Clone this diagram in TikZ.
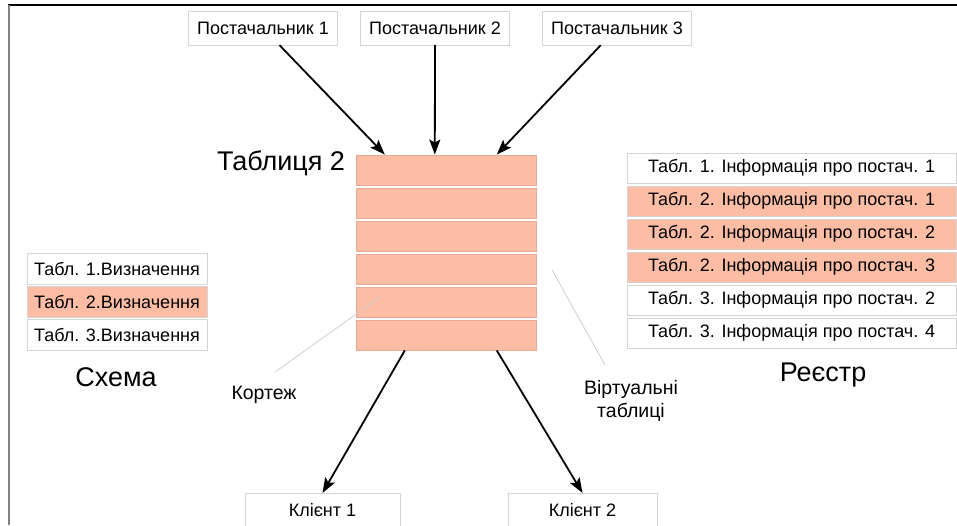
\documentclass[tikz,border=0pt]{standalone}
\usepackage{fontspec}
\setmainfont{Liberation Sans}
\usetikzlibrary{positioning,arrows.meta}

\definecolor{salmon}{RGB}{252,189,164}
\definecolor{salmonline}{RGB}{232,170,148}
\definecolor{boxline}{RGB}{212,212,212}
\definecolor{pointer}{RGB}{200,200,200}

\begin{document}
\begin{tikzpicture}[x=1pt,y=-1pt,node distance=33pt,on grid,
    small/.style={font=\fontsize{18}{22}\selectfont},
    mid/.style={font=\fontsize{19.5}{23}\selectfont},
    big/.style={font=\fontsize{27}{30}\selectfont},
    box/.style={small,draw=boxline,fill=white,inner sep=0pt,minimum height=34pt},
    row/.style={draw=salmonline,fill=salmon,inner sep=0pt,minimum width=180pt,minimum height=30.5pt},
    listrow/.style={box,minimum height=30.5pt},
    flow/.style={line width=1.8pt,-{Stealth[length=15pt,width=11pt,inset=3pt]}},
    hint/.style={draw=pointer,line width=0.7pt}]
    \useasboundingbox (0,0) rectangle (957,525);
    % frame
    \draw[line width=1.5pt] (8,5) -- (957,5);
    \draw[line width=2pt,gray] (8.5,5) -- (8.5,525);

    % suppliers
    \node[box,minimum width=149pt] (s_1) at (263,28)  {Постачальник 1};
    \node[box,minimum width=149pt] (s_2) at (435,28)  {Постачальник 2};
    \node[box,minimum width=149pt] (s_3) at (617,28)  {Постачальник 3};

    % table 2
    \node[row] (t_1) at (446,170) {};
    \node[row] (t_2) [below=of t_1] {};
    \node[row] (t_3) [below=of t_2] {};
    \node[row] (t_4) [below=of t_3] {};
    \node[row] (t_5) [below=of t_4] {};
    \node[row] (t_6) [below=of t_5] {};
    \node[big] (tab) at (281,163) {Таблиця 2};

    % schema
    \node[listrow,minimum width=180pt] (d_1) at (117,268.5) {Табл. 1.Визначення};
    \node[listrow,minimum width=180pt,fill=salmon] (d_2) [below=of d_1] {Табл. 2.Визначення};
    \node[listrow,minimum width=180pt] (d_3) [below=of d_2] {Табл. 3.Визначення};
    \node[big] (schema) at (116,377) {Схема};

    % registry
    \node[listrow,minimum width=329pt] (r_1) at (791.5,168) {Табл. 1. Інформація про постач. 1};
    \node[listrow,minimum width=329pt,fill=salmon] (r_2) [below=of r_1] {Табл. 2. Інформація про постач. 1};
    \node[listrow,minimum width=329pt,fill=salmon] (r_3) [below=of r_2] {Табл. 2. Інформація про постач. 2};
    \node[listrow,minimum width=329pt,fill=salmon] (r_4) [below=of r_3] {Табл. 2. Інформація про постач. 3};
    \node[listrow,minimum width=329pt] (r_5) [below=of r_4] {Табл. 3. Інформація про постач. 2};
    \node[listrow,minimum width=329pt] (r_6) [below=of r_5] {Табл. 3. Інформація про постач. 4};
    \node[big] (reg) at (823,375) {Реєстр};

    % clients
    \node[box,minimum width=155pt,anchor=north] (c_1) at (322.5,493) {Клієнт 1};
    \node[box,minimum width=149pt,anchor=north] (c_2) at (582.5,493) {Клієнт 2};

    % labels with pointers
    \node[mid] (tuple) at (264,395) {Кортеж};
    \node[mid,align=center] (virt) at (631,401) {Віртуальні\\таблиці};
    \coordinate (k_1) at (380,297);
    \coordinate (k_2) at (275,372);
    \coordinate (v_1) at (552,270);
    \coordinate (v_2) at (605,365);
    \draw[hint] (k_1) -- (k_2);
    \draw[hint] (v_1) -- (v_2);

    % arrow ends on the table
    \coordinate (a_1) at ([xshift=29pt]t_1.north west);
    \coordinate (a_2) at ([xshift=79pt]t_1.north west);
    \coordinate (a_3) at ([xshift=141pt]t_1.north west);
    \coordinate (b_1) at ([xshift=49pt]t_6.south west);
    \coordinate (b_2) at ([xshift=141pt]t_6.south west);

    \path[flow]
        (s_1) edge (a_1)
        (s_2.south) edge (a_2)
        (s_3) edge (a_3)
        (b_1) edge (c_1.north)
        (b_2) edge (c_2.north);
\end{tikzpicture}
\end{document}
